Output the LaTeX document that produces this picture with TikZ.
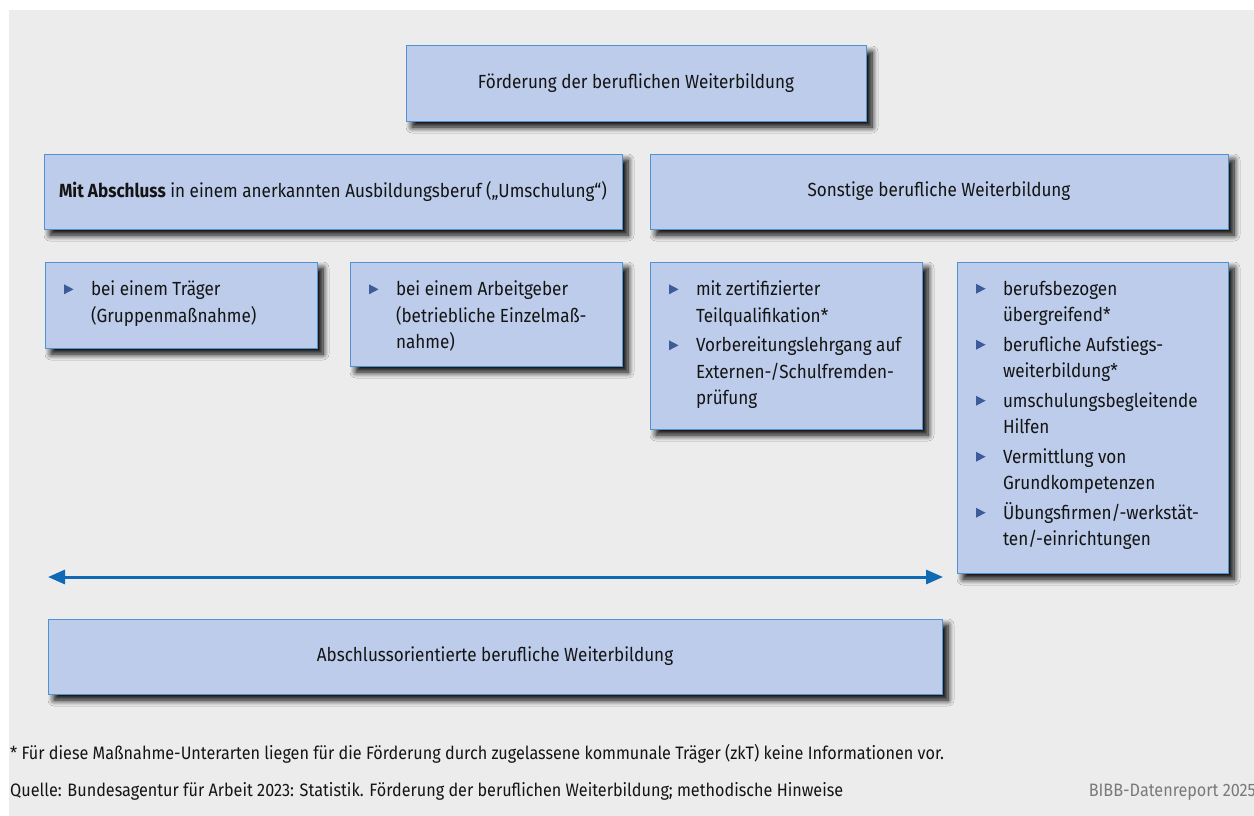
\documentclass[tikz,border=0pt]{standalone}
\usepackage{fontspec}
\setmainfont[FakeStretch=0.9]{Fira Sans}
\usetikzlibrary{arrows.meta,shadows.blur}
\definecolor{bgc}{HTML}{ECECEC}
\definecolor{boxfill}{HTML}{BCCCEA}
\definecolor{boxline}{HTML}{4F93D2}
\definecolor{bulc}{HTML}{3D5A99}
\definecolor{arrc}{HTML}{0F69B4}
\definecolor{txt}{HTML}{141414}
\definecolor{srcgray}{HTML}{7A7A7A}
\newcommand\bul{\tikz[baseline=0pt]\fill[bulc] (0pt,1.5pt)--(0pt,11.5pt)--(9.5pt,6.5pt)--cycle;}
\newcommand\nl{\hfil\break}
\newcommand\bitem[1]{\par\noindent\hangindent=27pt\hangafter=1\makebox[27pt][l]{\rule{0pt}{13pt}\bul}#1\par}
\newcommand\igap{\vspace{3pt}}
\newcommand\blist[3]{\parbox[c][#1pt][t]{#2pt}{\raggedright\vspace*{19pt}#3}}
\tikzset{
  box/.style={draw=boxline, line width=1pt, fill=boxfill,
    blur shadow={shadow xshift=6pt, shadow yshift=-6pt, shadow blur radius=6pt, shadow blur steps=8, shadow opacity=100},
    inner sep=0pt, text=txt, font=\fontsize{19}{26.5}\selectfont},
  foot/.style={inner sep=0pt, text=txt, font=\fontsize{18}{20}\selectfont},
  arr/.style={draw=arrc, line width=3pt, {Triangle[length=17pt,width=14pt]}-{Triangle[length=17pt,width=14pt]}}
}
\begin{document}
\begin{tikzpicture}[x=1pt,y=-1pt]
\useasboundingbox (0,0) rectangle (1254,816);
\fill[white] (0,0) rectangle (1254,816);
\fill[bgc] (9,10) rectangle (1254,816);

\node[box, minimum width=460pt, minimum height=75pt] (top) at (636,83.5) {Förderung der beruflichen Weiterbildung};
\node[box, minimum width=578pt, minimum height=75pt] (mit) at (333,191.5) {\textbf{Mit Abschluss} in einem anerkannten Ausbildungsberuf („Umschulung“)};
\node[box, minimum width=578pt, minimum height=75pt] (sonst) at (939,191.5) {Sonstige berufliche Weiterbildung};

\node[box, minimum width=272pt, minimum height=86pt] (b1) at (181,305) {\blist{86}{234}{\bitem{bei einem Träger\nl(Gruppenmaßnahme)}}};
\node[box, minimum width=272pt, minimum height=104pt] (b2) at (486,314) {\blist{104}{234}{\bitem{bei einem Arbeitgeber\nl(betriebliche Einzelmaß-\nl nahme)}}};
\node[box, minimum width=272pt, minimum height=167pt] (b3) at (786,345.5) {\blist{167}{234}{\bitem{mit zertifizierter\nl Teilqualifikation*}\igap\bitem{Vorbereitungslehrgang auf\nl Externen-/Schulfremden-\nl prüfung}}};
\node[box, minimum width=271pt, minimum height=311pt] (b4) at (1092.5,417.5) {\blist{311}{233}{\bitem{berufsbezogen\nl übergreifend*}\igap\bitem{berufliche Aufstiegs-\nl weiterbildung*}\igap\bitem{umschulungsbegleitende\nl Hilfen}\igap\bitem{Vermittlung von\nl Grundkompetenzen}\igap\bitem{Übungsfirmen/-werkstät-\nl ten/-einrichtungen}}};

\coordinate (al) at (48,577);
\coordinate (ar) at (943,577);
\draw[arr] (al) -- (ar);

\node[box, minimum width=894pt, minimum height=75pt] (abs) at (495,656.5) {Abschlussorientierte berufliche Weiterbildung};

\node[foot, anchor=base west] (note) at (10,759) {* Für diese Maßnahme-Unterarten liegen für die Förderung durch zugelassene kommunale Träger (zkT) keine Informationen vor.};
\node[foot, anchor=base west] (src) at (10,796) {Quelle: Bundesagentur für Arbeit 2023: Statistik. Förderung der beruflichen Weiterbildung; methodische Hinweise};
\node[foot, anchor=base east, text=srcgray] (bibb) at (1256,796) {BIBB-Datenreport 2025};
\end{tikzpicture}
\end{document}
